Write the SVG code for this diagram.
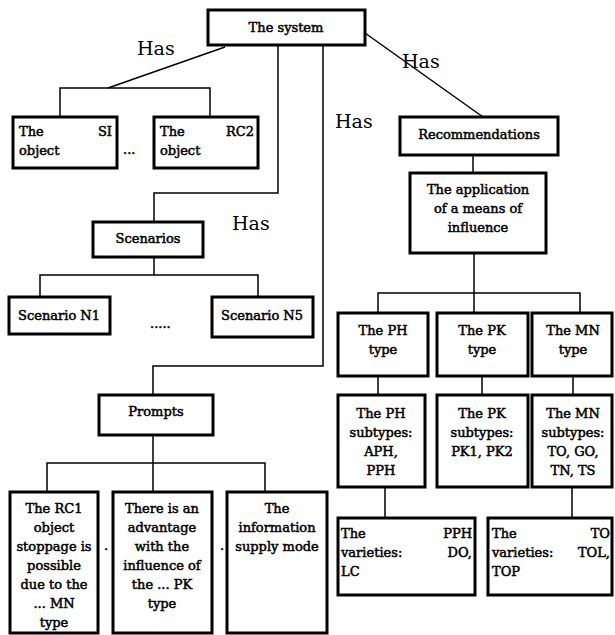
<svg xmlns="http://www.w3.org/2000/svg" width="615" height="635" viewBox="0 0 615 635">
<style>
.box{fill:#fff;stroke:#000;stroke-width:3}
.t{font-family:"DejaVu Serif","Liberation Serif",serif;font-size:13px;fill:#000;stroke:#000;stroke-width:0.5}
.c{text-anchor:middle}
.e{text-anchor:end}
.has{font-family:"DejaVu Serif","Liberation Serif",serif;font-size:19px;fill:#000}
.ln{fill:none;stroke:#000;stroke-width:1.5}
</style>
<rect width="615" height="635" fill="#fff"/>
<g id="connectors">
<path class="ln" d="M225,47 L108,88"/>
<path class="ln" d="M60,117 V88 H210 V117"/>
<path class="ln" d="M278,45 V193 H154 V222"/>
<path class="ln" d="M154,257 V275 M40,297 V275 H258 V297"/>
<path class="ln" d="M323,45 V366 H153 V395"/>
<path class="ln" d="M153,435 V492 M47,492 V463 H265 V492"/>
<path class="ln" d="M365,33 L483,117"/>
<path class="ln" d="M473,155 V173"/>
<path class="ln" d="M474,253 V313 M378,313 V293 H580 V313"/>
<path class="ln" d="M378,376 V395 M482,376 V395 M573,376 V395"/>
<path class="ln" d="M385,487 V518 M572,487 V518"/>
</g>
<g id="labels">
<text class="has" x="137" y="55">Has</text>
<text class="has" x="402" y="68">Has</text>
<text class="has" x="335" y="128">Has</text>
<text class="has" x="232" y="230">Has</text>
<text class="t" x="123" y="154">...</text>
<text class="t" x="150" y="328">.....</text>
<text class="t" x="104" y="550">.</text>
<text class="t" x="220" y="550">.</text>
</g>
<g id="system"><rect class="box" x="208" y="10" width="157" height="35"/><text class="t c" x="286" y="32">The system</text></g>
<g id="si-object"><rect class="box" x="13" y="117" width="104" height="51"/><text class="t" x="19" y="136">The</text><text class="t e" x="112" y="136">SI</text><text class="t" x="19" y="155">object</text></g>
<g id="rc2-object"><rect class="box" x="154" y="117" width="104" height="51"/><text class="t" x="160" y="136">The</text><text class="t e" x="254" y="136">RC2</text><text class="t" x="160" y="155">object</text></g>
<g id="scenarios"><rect class="box" x="93" y="222" width="110" height="35"/><text class="t c" x="148" y="243">Scenarios</text></g>
<g id="scenario-n1"><rect class="box" x="9" y="297" width="101" height="37"/><text class="t c" x="59" y="320">Scenario N1</text></g>
<g id="scenario-n5"><rect class="box" x="212" y="297" width="101" height="40"/><text class="t c" x="262" y="320">Scenario N5</text></g>
<g id="prompts"><rect class="box" x="99" y="395" width="114" height="40"/><text class="t c" x="156" y="416">Prompts</text></g>
<g id="prompt-1"><rect class="box" x="10" y="492" width="88" height="141"/>
<text class="t c" x="54" y="513">The RC1</text><text class="t c" x="54" y="532">object</text><text class="t c" x="54" y="551">stoppage is</text><text class="t c" x="54" y="570">possible</text><text class="t c" x="54" y="589">due to the</text><text class="t c" x="54" y="608">... MN</text><text class="t c" x="54" y="627">type</text></g>
<g id="prompt-2"><rect class="box" x="113" y="492" width="99" height="141"/>
<text class="t c" x="162" y="513">There is an</text><text class="t c" x="162" y="532">advantage</text><text class="t c" x="162" y="551">with the</text><text class="t c" x="162" y="570">influence of</text><text class="t c" x="162" y="589">the ... PK</text><text class="t c" x="162" y="608">type</text></g>
<g id="prompt-3"><rect class="box" x="227" y="492" width="100" height="141"/>
<text class="t c" x="277" y="513">The</text><text class="t c" x="277" y="532">information</text><text class="t c" x="277" y="551">supply mode</text></g>
<g id="recommendations"><rect class="box" x="400" y="117" width="158" height="38"/><text class="t c" x="479" y="139">Recommendations</text></g>
<g id="application"><rect class="box" x="410" y="173" width="136" height="80"/>
<text class="t c" x="478" y="194">The application</text><text class="t c" x="478" y="213">of a means of</text><text class="t c" x="478" y="232">influence</text></g>
<g id="ph-type"><rect class="box" x="338" y="313" width="90" height="63"/><text class="t c" x="383" y="335">The PH</text><text class="t c" x="383" y="354">type</text></g>
<g id="pk-type"><rect class="box" x="437" y="313" width="91" height="63"/><text class="t c" x="482" y="335">The PK</text><text class="t c" x="482" y="354">type</text></g>
<g id="mn-type"><rect class="box" x="532" y="313" width="80" height="63"/><text class="t c" x="573" y="335">The MN</text><text class="t c" x="573" y="354">type</text></g>
<g id="ph-subtypes"><rect class="box" x="338" y="395" width="87" height="92"/>
<text class="t c" x="381" y="418">The PH</text><text class="t c" x="381" y="437">subtypes:</text><text class="t c" x="381" y="456">APH,</text><text class="t c" x="381" y="475">PPH</text></g>
<g id="pk-subtypes"><rect class="box" x="437" y="395" width="91" height="92"/>
<text class="t c" x="482" y="418">The PK</text><text class="t c" x="482" y="437">subtypes:</text><text class="t c" x="482" y="456">PK1, PK2</text></g>
<g id="mn-subtypes"><rect class="box" x="532" y="395" width="80" height="92"/>
<text class="t c" x="573" y="418">The MN</text><text class="t c" x="573" y="437">subtypes:</text><text class="t c" x="573" y="456">TO, GO,</text><text class="t c" x="573" y="475">TN, TS</text></g>
<g id="pph-varieties"><rect class="box" x="338" y="518" width="137" height="77"/>
<text class="t" x="341" y="538">The</text><text class="t e" x="472" y="538">PPH</text><text class="t" x="341" y="557">varieties:</text><text class="t e" x="472" y="557">DO,</text><text class="t" x="341" y="576">LC</text></g>
<g id="to-varieties"><rect class="box" x="488" y="518" width="124" height="77"/>
<text class="t" x="492" y="538">The</text><text class="t e" x="610" y="538">TO</text><text class="t" x="492" y="557">varieties:</text><text class="t e" x="610" y="557">TOL,</text><text class="t" x="492" y="576">TOP</text></g>
</svg>
